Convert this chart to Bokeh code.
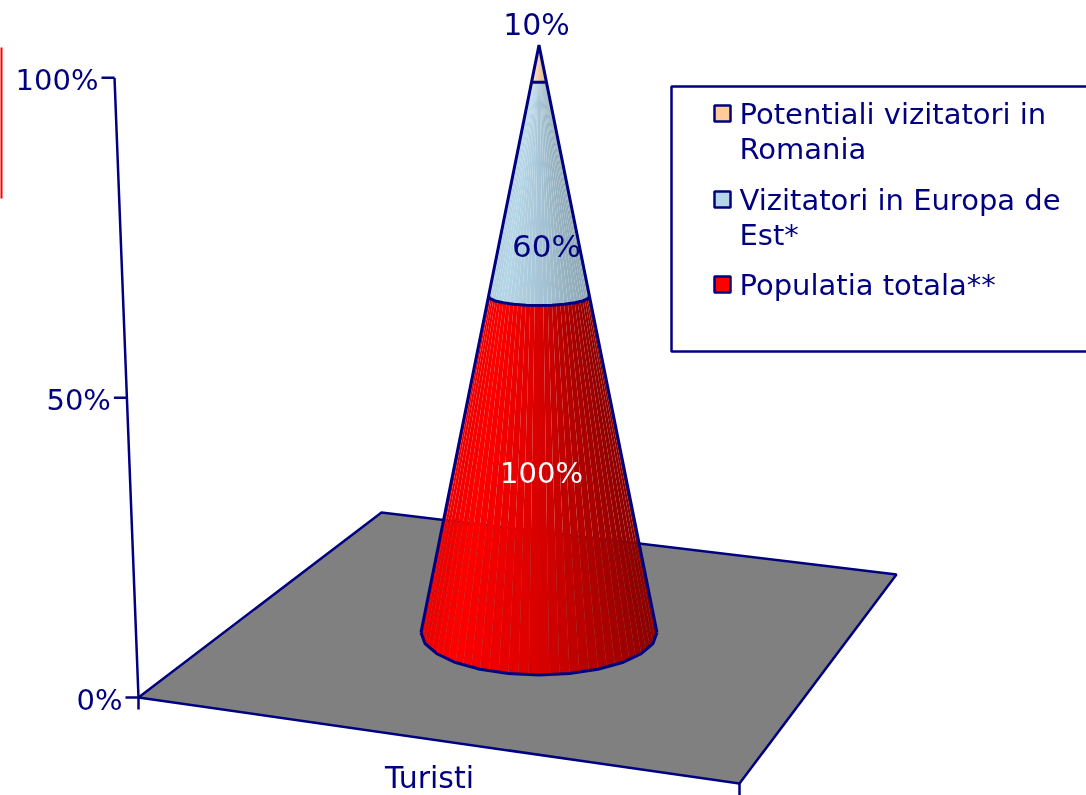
import numpy as np
from bokeh.plotting import figure
from bokeh.models import Range1d
from bokeh.core.properties import value
from bokeh.embed import file_html
from bokeh.resources import INLINE

# ---- data ----
category = "Turisti"
series_names = ["Populatia totala**", "Vizitatori in Europa de Est*", "Potentiali vizitatori in Romania"]
series_values = [100, 60, 10]
series_colors = [(255, 0, 0), (181, 214, 232), (255, 204, 153)]
series_label_colors = ["#ffffff", "#000080", "#000080"]
tick_values = [0, 50, 100]
tick_labels = ["0%", "50%", "100%"]
legend_entries = [
    (["Potentiali vizitatori in", "Romania"], "#FFCC99"),
    (["Vizitatori in Europa de", "Est*"], "#B5D6E8"),
    (["Populatia totala**"], "#FF0000"),
]

# ---- scene projection (the 3-D view of the chart, in page pixels) ----
NAVY = "#000080"
FONT = value("DejaVu Sans")
FS = "29px"
LW = 2.5
floor_x = [138, 381, 896, 739]
floor_y = [697, 512, 574, 783]
AX_X0, AX_Y0, AX_H, AX_K, AX_LEAN = 138, 697, 581, 0.0625, 24 / 620
CX, CY0, CONE_H, CONE_K, RX, RY_RATIO = 538.5, 632, 550, 0.0637, 118, 0.36


def axis_dy(v):
    f = v / 100
    return AX_H * f / (1 - AX_K * f)


def cone_dy(f):
    return CONE_H * f / (1 - CONE_K * f)


def ring(f, theta):
    dy = cone_dy(f)
    top = cone_dy(1)
    rx = RX * (1 - dy / top)
    ratio = max(RY_RATIO - 0.18 * dy / 336, 0)
    return CX - rx * np.cos(theta), CY0 - dy + rx * ratio * np.sin(theta)


def shade(t, strength):
    s = np.interp(t, [-1, -0.72, 0, 1], [0.92, 1.0, 0.85, 0.55])
    return 1 - (1 - s) * strength


p = figure(width=1086, height=795, output_backend="svg", toolbar_location=None,
           x_range=Range1d(0, 1086), y_range=Range1d(795, 0), min_border=0,
           styles={"position": "fixed", "left": "0", "top": "0"})
p.axis.visible = False
p.grid.visible = False
p.outline_line_color = None
p.background_fill_color = "white"

# floor
p.patch(floor_x, floor_y, fill_color="#808080", line_color=NAVY, line_width=LW)

# value axis
ticks_dy = [axis_dy(v) for v in tick_values]
ax_x = [AX_X0 - AX_LEAN * d for d in ticks_dy]
ax_y = [AX_Y0 - d for d in ticks_dy]
p.line(ax_x, ax_y, line_color=NAVY, line_width=LW)
p.multi_line([[x - 13, x] for x in ax_x], [[y, y] for y in ax_y], line_color=NAVY, line_width=LW)
p.text([x - 16 for x in ax_x], [y + 2 for y in ax_y], text=tick_labels, text_font=FONT,
       text_font_size=FS, text_color=NAVY, text_align="right", text_baseline="middle")

# category ticks and label
p.multi_line([[AX_X0, AX_X0], [floor_x[3], floor_x[3]]],
             [[AX_Y0, AX_Y0 + 12], [floor_y[3], floor_y[3] + 12]], line_color=NAVY, line_width=LW)
p.text([429], [777], text=[category], text_font=FONT, text_font_size="30px", text_color=NAVY,
       text_align="center", text_baseline="middle")

# stacked cone
total = sum(series_values)
cum = np.cumsum([0] + series_values) / total
N = 36
thetas = np.linspace(np.pi, 0, N + 1)
for i, rgb in enumerate(series_colors):
    xs, ys, cols = [], [], []
    strength = 1.0 if i == 0 else 0.5
    for j in range(N):
        a, b = thetas[j], thetas[j + 1]
        x0, y0 = ring(cum[i], a)
        x1, y1 = ring(cum[i], b)
        x2, y2 = ring(cum[i + 1], b)
        x3, y3 = ring(cum[i + 1], a)
        xs.append([x0, x1, x2, x3])
        ys.append([y0, y1, y2, y3])
        s = shade(-np.cos((a + b) / 2), strength)
        cols.append("#%02x%02x%02x" % tuple(int(c * s) for c in rgb))
    p.patches(xs, ys, fill_color=cols, line_color=None)

coarse = thetas[::3]
for f in cum[:-1]:
    rx_, ry_ = ring(f, coarse)
    p.line(rx_, ry_, line_color=NAVY, line_width=3)
lx, ly = ring(0, np.pi)
tx, ty = ring(1, np.pi)
rxx, ryy = ring(0, 0)
p.line([lx, tx, rxx], [ly, ty, ryy], line_color=NAVY, line_width=3)

# data labels
label_x = [541, 546, 536]
label_y = [472, 245, 24]
label_sizes = ["29px", "31px", "30px"]
p.text(label_x, label_y, text=[f"{v}%" for v in series_values], text_font=FONT, text_font_size=label_sizes,
       text_color=series_label_colors, text_align="center", text_baseline="middle")

# legend box
p.line([1086, 671, 671, 1086], [86, 86, 351, 351], line_color=NAVY, line_width=LW)
row_y = [114, 200, 285]
for (lines, col), y in zip(legend_entries, row_y):
    p.quad(left=[714], right=[730], top=[y - 9], bottom=[y + 7], fill_color=col, line_color=NAVY, line_width=LW)
    p.text([739] * len(lines), [y - 1 + 35 * k for k in range(len(lines))], text=lines, text_font=FONT,
           text_font_size=FS, text_color=NAVY, text_align="left", text_baseline="middle")

# red mark at the page's left edge
p.line([0.5, 0.5], [47, 198], line_color="#FF0000", line_width=3)

open("out.html", "w").write(file_html(p, INLINE))
